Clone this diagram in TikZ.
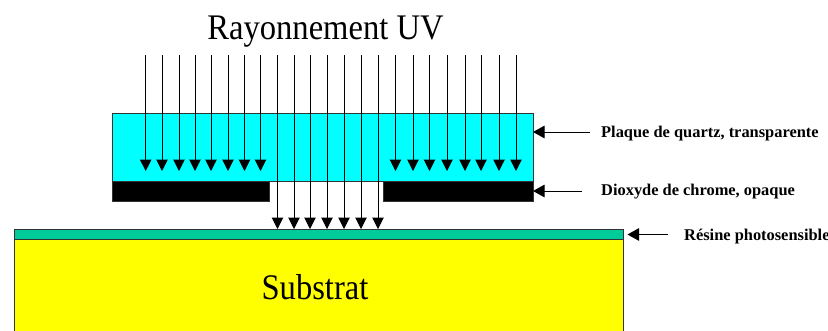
\documentclass[tikz,border=0pt]{standalone}
\usepackage{fontspec}
\setmainfont{Liberation Serif}
\newfontfamily\narrowfont[FakeStretch=0.905]{Liberation Serif}
\usetikzlibrary{arrows.meta}
\definecolor{quartzcyan}{HTML}{00FFFF}
\definecolor{resistgreen}{HTML}{00CC99}
\definecolor{substratyellow}{HTML}{FFFF00}
\tikzset{
  ray/.style={-{Triangle[length=11.5pt,width=11.5pt]}, line width=1pt, color=black},
  pointer/.style={-{Triangle[length=11.5pt,width=12.5pt]}, line width=1pt, color=black},
  layer/.style={draw=black!80, line width=0.9pt, inner sep=0pt, outer sep=0pt},
  caption/.style={font=\fontsize{16.4}{18}\selectfont\bfseries, anchor=west, inner sep=0pt},
  heading/.style={font=\narrowfont\fontsize{36}{40}\selectfont}
}

\begin{document}
\begin{tikzpicture}[x=1pt, y=-1pt]
\useasboundingbox (0,0) rectangle (828,330);
\node[layer, fill=substratyellow, minimum width=609.5pt, minimum height=100pt] (substrat) at (318.75,289) {};
\node[layer, fill=resistgreen, minimum width=609.5pt, minimum height=9.5pt] (resine) at (318.75,234.25) {};
\node[layer, fill=quartzcyan, minimum width=420.5pt, minimum height=68pt] (quartz) at (322.75,147) {};
\node[layer, fill=black, minimum width=157pt, minimum height=20pt] (chromeleft) at (191,191) {};
\node[layer, fill=black, minimum width=149.5pt, minimum height=20pt] (chromeright) at (458.25,191) {};
\foreach \x in {145.7,162,179,195,211,228,244.5,260.5,395.5,413,429.5,447,465,481,499,516}
  \draw[ray] (\x,55) -- (\x,171);
\foreach \x in {277.5,294,310,327,344,361,378}
  \draw[ray] (\x,55) -- (\x,229);
\node[heading] (titre) at (325.5,32) {Rayonnement UV};
\node[heading] (substratlabel) at (315,287) {Substrat};
\node[caption] (quartzlabel) at (601,134) {Plaque de quartz, transparente};
\node[caption] (chromelabel) at (601,192) {Dioxyde de chrome, opaque};
\node[caption] (resinelabel) at (684,236.5) {Résine photosensible};
\coordinate (quartzfrom) at (590,132);
\coordinate (chromefrom) at (582,191);
\coordinate (resinefrom) at (668,234.5);
\draw[pointer] (quartzfrom) -- (quartzfrom -| quartz.east);
\draw[pointer] (chromefrom) -- (chromefrom -| chromeright.east);
\draw[pointer] (resinefrom) -- ([xshift=4pt]resinefrom -| resine.east);
\end{tikzpicture}
\end{document}
